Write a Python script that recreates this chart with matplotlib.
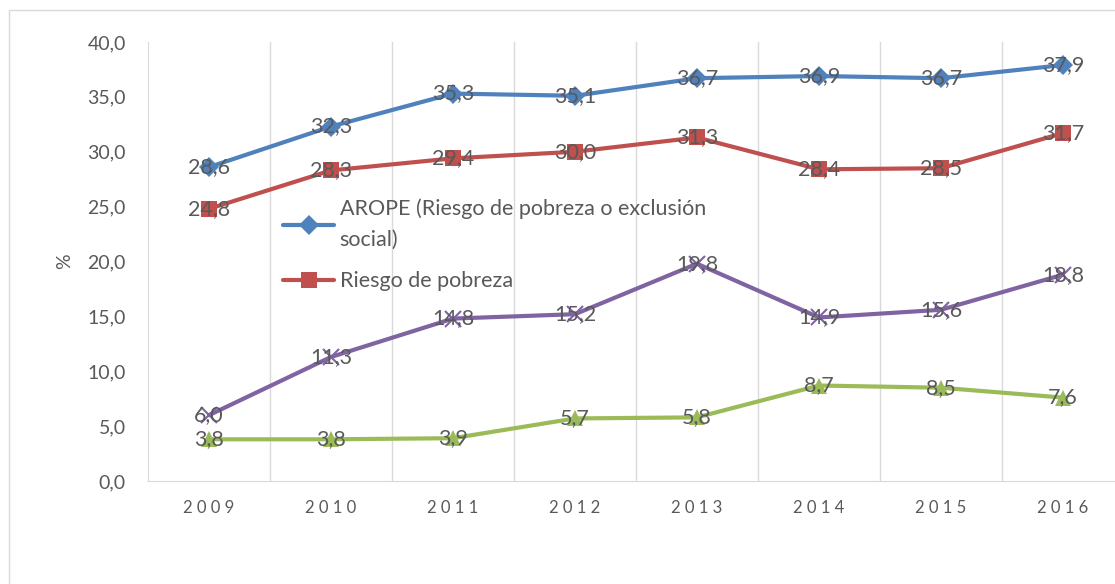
import matplotlib.pyplot as plt
from matplotlib.patches import Rectangle

years = ['2009', '2010', '2011', '2012', '2013', '2014', '2015', '2016']
arope = [28.6, 32.3, 35.3, 35.1, 36.7, 36.9, 36.7, 37.9]
pobreza = [24.8, 28.3, 29.4, 30.0, 31.3, 28.4, 28.5, 31.7]
serie3 = [6.0, 11.3, 14.8, 15.2, 19.8, 14.9, 15.6, 18.8]
serie4 = [3.8, 3.8, 3.9, 5.7, 5.8, 8.7, 8.5, 7.6]

plt.rcParams['font.family'] = ['Lato', 'DejaVu Sans']
gray = '#595959'

fig = plt.figure(figsize=(11.15, 5.84), dpi=100)
fig.patches.append(Rectangle((9/1115, -0.1), 1.2, 1 - 10/584 + 0.1, transform=fig.transFigure,
                             fill=False, edgecolor='#D9D9D9', lw=1))
ax = fig.add_axes([148/1115, 1 - 481/584, 976/1115, 439/584])

x = list(range(len(years)))
series = [
    (arope, '#4F81BD', 'D', 10, 'AROPE (Riesgo de pobreza o exclusión\nsocial)'),
    (pobreza, '#C0504D', 's', 11, 'Riesgo de pobreza'),
    (serie3, '#8064A2', 'x', 12, None),
    (serie4, '#9BBB59', '^', 12, None),
]
for vals, col, mk, ms, lab in series:
    ax.plot(x, vals, color=col, lw=3, marker=mk, markersize=ms, mew=1.5 if mk == 'x' else 0,
            label=lab, solid_capstyle='round')
    for xi, v in zip(x, vals):
        ax.text(xi, v, f'{v:.1f}'.replace('.', ','), ha='center', va='center',
                fontsize=15.5, color=gray)

ax.set_xlim(-0.5, 7.5)
ax.set_ylim(0, 40)
ax.set_yticks([0, 5, 10, 15, 20, 25, 30, 35, 40])
ax.set_yticklabels([f'{t:.1f}'.replace('.', ',') for t in ax.get_yticks()])
ax.set_xticks(x)
ax.set_xticklabels([' '.join(y) for y in years])
ax.tick_params(axis='y', length=0, labelsize=14, labelcolor=gray, pad=16)
ax.tick_params(axis='x', length=0, labelsize=12, labelcolor=gray, pad=14)
ax.set_ylabel('%', fontsize=14, color=gray, labelpad=10)

for b in [i + 0.5 for i in range(7)]:
    ax.axvline(b, color='#D9D9D9', lw=1, zorder=0)
for s in ['top', 'right']:
    ax.spines[s].set_visible(False)
ax.spines['left'].set_color('#D9D9D9')
ax.spines['bottom'].set_color('#D9D9D9')

leg = ax.legend(loc='upper left', bbox_to_anchor=(0.138, 0.643), frameon=False,
                fontsize=15.5, handlelength=2.4, handletextpad=0.25, labelspacing=1.0,
                borderpad=0, borderaxespad=0)
for t in leg.get_texts():
    t.set_color(gray)
    t.set_linespacing(1.65)

fig.savefig('out.png', dpi=100)
